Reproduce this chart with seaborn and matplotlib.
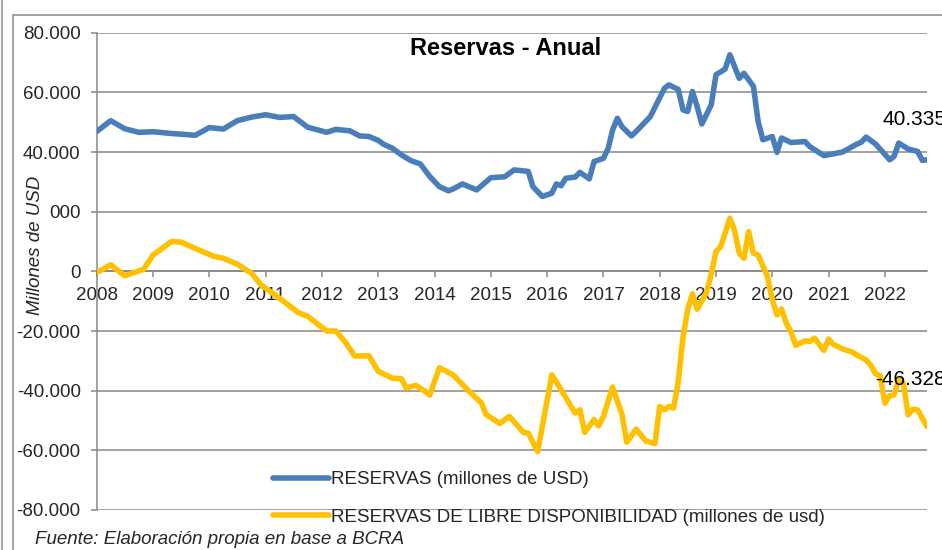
import matplotlib
matplotlib.use("Agg")
import matplotlib.pyplot as plt
import seaborn as sns
import pandas as pd
from matplotlib.lines import Line2D

# ---------------- data ----------------
blue_dates = ["2008-01", "2008-04", "2008-07", "2008-10", "2009-01", "2009-05", "2009-07", "2009-10",
              "2010-01", "2010-04", "2010-07", "2010-10", "2011-01", "2011-04", "2011-07", "2011-10",
              "2012-02", "2012-04", "2012-07", "2012-09", "2012-11", "2013-01", "2013-02", "2013-04",
              "2013-06", "2013-08", "2013-10", "2013-12", "2014-02", "2014-04", "2014-05", "2014-07",
              "2014-10", "2015-01", "2015-04", "2015-06", "2015-09", "2015-10", "2015-12", "2016-02",
              "2016-03", "2016-04", "2016-05", "2016-07", "2016-08", "2016-10", "2016-11", "2017-01",
              "2017-02", "2017-03", "2017-04", "2017-05", "2017-07", "2017-08", "2017-10", "2017-11",
              "2017-12", "2018-02", "2018-03", "2018-05", "2018-06", "2018-07", "2018-08", "2018-09",
              "2018-10", "2018-12", "2019-01", "2019-03", "2019-04", "2019-06", "2019-07", "2019-09",
              "2019-10", "2019-11", "2020-01", "2020-02", "2020-03", "2020-05", "2020-08", "2020-09",
              "2020-12", "2021-02", "2021-04", "2021-07", "2021-08", "2021-09", "2021-11", "2022-02",
              "2022-03", "2022-04", "2022-06", "2022-08", "2022-09", "2022-10"]
blue_values = [46900, 50500, 47800, 46600, 46800, 46200, 46000, 45600,
               48200, 47700, 50500, 51700, 52500, 51600, 51900, 48300,
               46600, 47600, 47100, 45400, 45200, 43900, 42700, 41300,
               39000, 37100, 36000, 31800, 28400, 27000, 27600, 29300,
               27300, 31400, 31700, 34000, 33500, 28400, 25100, 26200,
               29300, 28700, 31200, 31600, 33200, 31000, 36800, 37900,
               41300, 47400, 51300, 48500, 45400, 46900, 50200, 51900,
               55000, 61400, 62500, 61000, 54100, 53600, 60300, 55200,
               49400, 55800, 65900, 67800, 72600, 64700, 66400, 62000,
               50300, 44100, 45200, 39900, 44700, 43200, 43500, 41800,
               38800, 39400, 40000, 42600, 43300, 45000, 42700, 37400,
               38500, 43000, 41000, 40200, 37200, 37400]

yellow_dates = ["2008-01", "2008-04", "2008-07", "2008-11", "2009-01", "2009-05", "2009-07", "2009-11",
                "2010-02", "2010-04", "2010-07", "2010-10", "2010-12", "2011-04", "2011-08", "2011-10",
                "2012-02", "2012-04", "2012-06", "2012-08", "2012-11", "2013-01", "2013-04", "2013-06",
                "2013-07", "2013-09", "2013-11", "2013-12", "2014-02", "2014-05", "2014-08", "2014-11",
                "2014-12", "2015-03", "2015-05", "2015-08", "2015-09", "2015-11", "2016-02", "2016-04",
                "2016-07", "2016-08", "2016-09", "2016-11", "2016-12", "2017-01", "2017-03", "2017-05",
                "2017-06", "2017-08", "2017-10", "2017-12", "2018-01", "2018-02", "2018-03", "2018-04",
                "2018-05", "2018-06", "2018-07", "2018-08", "2018-09", "2018-11", "2018-12", "2019-01",
                "2019-02", "2019-04", "2019-05", "2019-06", "2019-07", "2019-08", "2019-09", "2019-10",
                "2019-12", "2020-01", "2020-02", "2020-03", "2020-04", "2020-05", "2020-06", "2020-08",
                "2020-09", "2020-10", "2020-12", "2021-01", "2021-02", "2021-04", "2021-06", "2021-07",
                "2021-09", "2021-10", "2021-11", "2021-12", "2022-01", "2022-02", "2022-03", "2022-04",
                "2022-05", "2022-06", "2022-07", "2022-08", "2022-10"]
yellow_values = [-400, 2200, -1500, 700, 5500, 10000, 9800, 7000,
                 5000, 4400, 2400, -600, -4500, -9000, -13800, -15100,
                 -20000, -20000, -23700, -28400, -28300, -33500, -35800, -36000,
                 -39100, -38200, -40200, -41500, -32300, -34700, -39600, -44100,
                 -48000, -51000, -48600, -54000, -54200, -60400, -34700, -39700,
                 -47500, -46400, -54000, -49700, -51800, -48600, -38800, -48000,
                 -57300, -52900, -56800, -57800, -45300, -46400, -45300, -45800,
                 -37000, -22000, -12900, -7500, -12700, -7000, -1000, 6600,
                 8300, 17800, 13800, 6100, 4400, 13300, 6100, 5500,
                 -1700, -9500, -14600, -12600, -17400, -20200, -24800, -23300,
                 -23500, -22400, -26500, -22700, -24500, -26000, -27000, -28000,
                 -29700, -31500, -34300, -35000, -44200, -41700, -41500, -36100,
                 -37500, -48100, -46200, -46400, -52000]

years = list(range(2008, 2023))
ytick_values = [80000, 60000, 40000, 20000, 0, -20000, -40000, -60000, -80000]
ytick_labels = ["80.000", "60.000", "40.000", "000", "0", "-20.000", "-40.000", "-60.000", "-80.000"]
title_text = "Reservas - Anual"
label_blue = "RESERVAS (millones de USD)"
label_yellow = "RESERVAS DE LIBRE DISPONIBILIDAD (millones de usd)"
last_blue_label = "40.335"
last_yellow_label = "-46.328"
ylabel_text = "Millones de USD"
source_text = "Fuente: Elaboración propia en base a BCRA"

# ---------------- style ----------------
BLUE = "#4A7EBB"
YELLOW = "#FFC000"
GRID = "#878787"
FS = 13.5

sns.set_style("white")
plt.rcParams["font.family"] = ["Liberation Sans", "DejaVu Sans"]

W, H = 942, 550
fig = plt.figure(figsize=(W / 100, H / 100), dpi=100)
ax_left, ax_right, ax_top, ax_bottom = 96.7, 927.0, 32.7, 510.0
ax = fig.add_axes([ax_left / W, 1 - ax_bottom / H, (ax_right - ax_left) / W, (ax_bottom - ax_top) / H])

df_b = pd.DataFrame({"fecha": pd.to_datetime(blue_dates), "valor": blue_values})
df_y = pd.DataFrame({"fecha": pd.to_datetime(yellow_dates), "valor": yellow_values})

sns.lineplot(data=df_b, x="fecha", y="valor", ax=ax, color=BLUE, linewidth=4,
             label=label_blue, errorbar=None, zorder=4, solid_joinstyle="round")
sns.lineplot(data=df_y, x="fecha", y="valor", ax=ax, color=YELLOW, linewidth=4,
             label=label_yellow, errorbar=None, zorder=4, solid_joinstyle="round")

ax.set_xlim(pd.Timestamp("2008-01-01"), pd.Timestamp("2022-10-01"))
ax.set_ylim(-80000, 80000)
ax.set_yticks(ytick_values)
ax.set_yticklabels(ytick_labels)
ax.set_xticks([pd.Timestamp(f"{y}-01-01") for y in years])
ax.set_xticklabels([str(y) for y in years])
ax.set_xlabel("")
ax.set_ylabel("")

ax.grid(axis="y", color=GRID, linewidth=1.1)
ax.grid(axis="x", visible=False)
ax.set_axisbelow(True)
for s in ["top", "right"]:
    ax.spines[s].set_visible(False)
ax.spines["left"].set_color(GRID)
ax.spines["left"].set_linewidth(1.1)
ax.spines["bottom"].set_position(("data", 0))
ax.spines["bottom"].set_color(GRID)
ax.spines["bottom"].set_linewidth(1.1)
ax.tick_params(axis="x", direction="out", length=4, width=1.1, color=GRID, pad=7,
               labelsize=FS, bottom=True)
ax.tick_params(axis="y", direction="out", length=4.5, width=1.1, color=GRID, pad=7,
               labelsize=FS, left=True)

# title inside plot
ax.text(0.492, 0.967, title_text, transform=ax.transAxes, ha="center", va="center",
        fontsize=17, fontweight="bold", color="black")

# end labels (placed like the reference, running off the right edge)
ax.annotate(last_blue_label, xy=(df_b["fecha"].iloc[-1], df_b["valor"].iloc[-1]),
            xytext=(-32, 29), textcoords="offset points", ha="left", va="center",
            fontsize=15, color="black", annotation_clip=False)
ax.annotate(last_yellow_label, xy=(df_y["fecha"].iloc[-1], df_y["valor"].iloc[-1]),
            xytext=(-37, 34), textcoords="offset points", ha="left", va="center",
            fontsize=15, color="black", annotation_clip=False, zorder=5)

# legend
leg = ax.legend(loc="upper left", bbox_to_anchor=(273 / W, 1 - 471 / H),
                bbox_transform=fig.transFigure, frameon=False, borderpad=0,
                borderaxespad=0, handlelength=3.0, handletextpad=0.1,
                labelspacing=1.1, fontsize=FS)

# y label and source
fig.text(35 / W, 1 - 245 / H, ylabel_text, rotation=90, style="italic",
         ha="center", va="center", fontsize=FS)
fig.text(35 / W, 1 - 540 / H, source_text, style="italic", ha="left", va="center",
         fontsize=FS)

# chart frame lines
BORDER = "#8c8c8c"
fig.add_artist(Line2D([12.7 / W, 12.7 / W], [0, 1 - 15 / H], transform=fig.transFigure,
                      color=BORDER, linewidth=1.1))
fig.add_artist(Line2D([12.7 / W, 1], [1 - 15 / H, 1 - 15 / H], transform=fig.transFigure,
                      color=BORDER, linewidth=1.1))
fig.add_artist(Line2D([1.5 / W, 1.5 / W], [0, 1], transform=fig.transFigure,
                      color=BORDER, linewidth=1.1))

fig.savefig("out.png", dpi=100)
